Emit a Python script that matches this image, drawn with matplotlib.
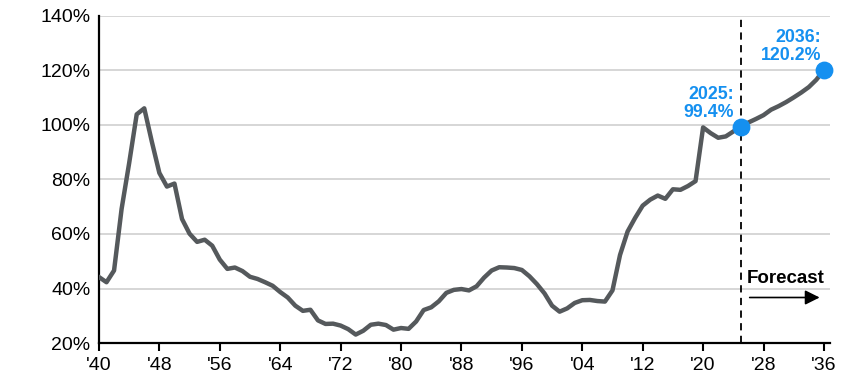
import matplotlib
matplotlib.use("Agg")
import matplotlib.pyplot as plt

plt.rcParams['font.family'] = ['Liberation Sans', 'DejaVu Sans']

# Federal debt held by the public, % of GDP
years = list(range(1940, 2037))
debt = [44.2, 42.3, 46.6, 69.2, 86.0, 103.9, 106.1, 93.9, 82.4, 77.4,
        78.5, 65.5, 60.1, 57.1, 57.9, 55.7, 50.6, 47.2, 47.7, 46.4,
        44.3, 43.5, 42.3, 41.0, 38.7, 36.7, 33.7, 31.8, 32.2, 28.3,
        27.0, 27.1, 26.4, 25.1, 23.1, 24.5, 26.7, 27.1, 26.6, 24.9,
        25.5, 25.2, 27.9, 32.1, 33.1, 35.3, 38.4, 39.5, 39.8, 39.3,
        40.8, 44.0, 46.6, 47.8, 47.7, 47.5, 46.8, 44.5, 41.6, 38.2,
        33.7, 31.5, 32.7, 34.7, 35.7, 35.8, 35.4, 35.2, 39.3, 52.3,
        60.9, 65.9, 70.4, 72.6, 74.1, 72.9, 76.4, 76.2, 77.6, 79.4,
        99.1, 97.0, 95.3, 95.8, 97.6, 99.4, 100.9, 102.2, 103.6, 105.6,
        106.9, 108.4, 110.1, 111.9, 113.9, 116.6, 120.2]

tick_years = list(range(1940, 2037, 8))
tick_labels = ["'" + str(y)[2:] for y in tick_years]
y_ticks = [20, 40, 60, 80, 100, 120, 140]

forecast_start = 2025
callouts = [(2025, 99.4), (2036, 120.2)]

line_col = '#55595c'
blue = '#1590f0'

fig = plt.figure(figsize=(8.53, 3.83), dpi=100)
ax = fig.add_axes([0.116, 0.1044, 0.857, 0.854])

ax.plot(years, debt, color=line_col, lw=3.2, solid_joinstyle='round', zorder=3)

ax.set_xlim(1940, 2036.8)
ax.set_ylim(20, 140)
ax.set_xticks(tick_years)
ax.set_xticklabels(tick_labels)
ax.set_yticks(y_ticks)
ax.set_yticklabels([f"{v}%" for v in y_ticks])
ax.tick_params(axis='both', labelsize=14, colors='black')
ax.tick_params(axis='x', direction='out', length=6, width=1.5, pad=4)
ax.tick_params(axis='y', length=0, pad=6)

for v in y_ticks[1:]:
    ax.axhline(v, color='#d0d0d0', lw=1.2, zorder=1)

for s in ['top', 'right']:
    ax.spines[s].set_visible(False)
for s in ['left', 'bottom']:
    ax.spines[s].set_linewidth(1.6)
    ax.spines[s].set_color('black')

ax.axvline(forecast_start, color='black', lw=1.3, ls=(0, (4, 3)), zorder=2)

for yr, val in callouts:
    ax.scatter([yr], [val], s=140, color=blue, zorder=5, clip_on=False)

ax.text(2024.1, 101.5, "2025:\n99.4%", color=blue, fontsize=12.8, fontweight='bold',
        ha='right', va='bottom', linespacing=1.05)
ax.text(2035.6, 122.5, "2036:\n120.2%", color=blue, fontsize=12.8, fontweight='bold',
        ha='right', va='bottom', linespacing=1.05)

ax.text(2025.8, 40.5, "Forecast", fontsize=13.5, fontweight='bold', ha='left', va='bottom')
ax.annotate("", xy=(2035.8, 36.7), xytext=(2025.8, 36.7),
            arrowprops=dict(arrowstyle='-|>', color='black', lw=1.2, mutation_scale=22))

fig.savefig("out.png", dpi=100)
